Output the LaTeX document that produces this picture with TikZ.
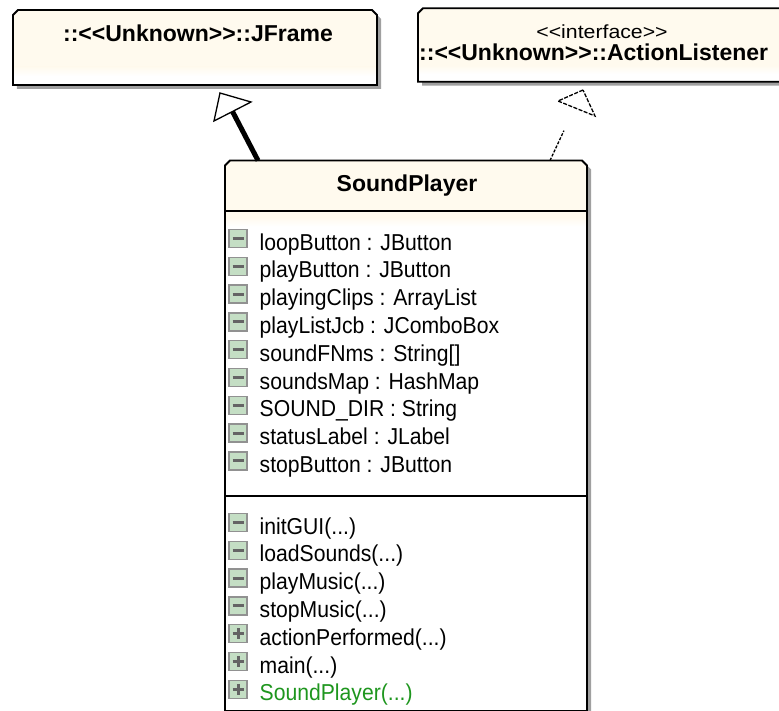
\documentclass[tikz,border=0pt]{standalone}
\usepackage{fontspec}
\setmainfont{Liberation Sans}[Ligatures=TeXOff]
\newfontfamily\memberfont{Liberation Sans}[FakeStretch=0.92, Ligatures=TeXOff]
\newfontfamily\stereofont{Liberation Sans}[FakeStretch=1.12, Ligatures=TeXOff]
\usetikzlibrary{calc}

\definecolor{classfill}{RGB}{255,250,238}
\definecolor{shadowgray}{RGB}{160,160,160}
\definecolor{iconfill}{RGB}{196,222,196}
\definecolor{iconedge}{RGB}{145,145,145}
\definecolor{iconbar}{RGB}{100,100,100}
\definecolor{ctorgreen}{RGB}{30,150,30}

% collapsed parameter list of an operation
\newcommand\argdots{(...)}

\tikzset{
  classarea/.style={rectangle, inner sep=0pt, outer sep=0pt},
  % class box outline with chamfered top corners, shifted by #2
  classshape/.style n args={2}{insert path={
    ($(#1.south west)+(#2)$) -- ($(#1.north west)+(0,5)+(#2)$) --
    ($(#1.north west)+(5,0)+(#2)$) -- ($(#1.north east)+(-5,0)+(#2)$) --
    ($(#1.north east)+(0,5)+(#2)$) -- ($(#1.south east)+(#2)$) -- cycle}},
  classedge/.style={draw=black, line width=1.8bp, line join=miter},
  sepline/.style={draw=black, line width=1.6bp},
  titletext/.style={anchor=base, inner sep=0pt, font=\bfseries\fontsize{23bp}{28bp}\selectfont},
  membertext/.style={anchor=base west, inner sep=0pt, font=\memberfont\fontsize{23bp}{28bp}\selectfont},
  stereotext/.style={anchor=base, inner sep=0pt, font=\stereofont\fontsize{19bp}{24bp}\selectfont},
  iconbase/.style={rectangle, inner sep=0pt, minimum size=18bp, fill=iconfill, draw=iconedge, line width=1.4bp},
  minusicon/.style={iconbase, path picture={
    \draw[iconbar, line width=3bp] ($(path picture bounding box.center)+(-5.5,0)$) -- ($(path picture bounding box.center)+(5.5,0)$);}},
  plusicon/.style={iconbase, path picture={
    \draw[iconbar, line width=3bp] ($(path picture bounding box.center)+(-5.5,0)$) -- ($(path picture bounding box.center)+(5.5,0)$);
    \draw[iconbar, line width=3bp] ($(path picture bounding box.center)+(0,-5.5)$) -- ($(path picture bounding box.center)+(0,5.5)$);}},
  genline/.style={draw=black, line width=5bp},
  realline/.style={draw=black, line width=1.3bp, dash pattern=on 3bp off 1.5bp},
  gentri/.style={draw=black, fill=white, line width=1.3bp, line join=miter},
  realtri/.style={draw=black, fill=white, line width=1.3bp, dash pattern=on 4bp off 1.5bp, line join=miter},
}

% draws shadow, fill and outline of a class box node
\newcommand\drawclassbox[1]{%
  \fill[shadowgray, classshape={#1}{4,4}];
  \fill[white, classshape={#1}{0,0}];
  \begin{scope}
    \clip[classshape={#1}{0,0}];
    \fill[classfill] (#1.north west) rectangle ($(#1.north east)+(0,57)$);
    \shade[top color=classfill, bottom color=white] ($(#1.north west)+(0,57)$) rectangle ($(#1.north east)+(0,66)$);
  \end{scope}
  \draw[classedge, classshape={#1}{0,0}];
}

\begin{document}
\begin{tikzpicture}[x=1bp, y=-1bp]
  \useasboundingbox (0,0) rectangle (779,711);
  \fill[white] (0,0) rectangle (779,711);

  % class boxes
  \node[classarea, minimum width=364bp, minimum height=75bp] (jframe) at (195,47.5) {};
  \node[classarea, minimum width=390bp, minimum height=73.5bp] (listener) at (613,45) {};
  \node[classarea, minimum width=362bp, minimum height=550.5bp] (player) at (406,435.75) {};

  \drawclassbox{jframe}
  \drawclassbox{listener}
  \drawclassbox{player}

  % names
  \node[titletext] (jframename) at (198,41.5) {::<<Unknown>>::JFrame};
  \node[stereotext] (listenerstereo) at (602,39) {<<interface>>};
  \node[titletext, anchor=base west] (listenername) at (419,60.5) {::<<Unknown>>::ActionListener};
  \node[titletext] (playername) at (407,191.5) {SoundPlayer};

  % compartment separators
  \coordinate (sepAw) at ($(player.north west)+(0,50.5)$);
  \coordinate (sepAe) at ($(player.north east)+(0,50.5)$);
  \coordinate (sepBw) at ($(player.north west)+(0,335.5)$);
  \coordinate (sepBe) at ($(player.north east)+(0,335.5)$);
  \draw[sepline] (sepAw) -- (sepAe);
  \draw[sepline] (sepBw) -- (sepBe);

  % attributes
  \foreach \txt [count=\i] in {loopButton : JButton, playButton : JButton,
      playingClips : ArrayList, playListJcb : JComboBox, soundFNms : String[],
      soundsMap : HashMap, SOUND\_DIR : String, statusLabel : JLabel, stopButton : JButton}{
    \node[minusicon] (attricon\i) at (238,{238.5+27.8*(\i-1)}) {};
    \node[membertext] (attr\i) at (259.5,{250+27.8*(\i-1)}) {\txt};
  }

  % operations
  \foreach \txt [count=\i] in {initGUI, loadSounds, playMusic, stopMusic}{
    \node[minusicon] (opicon\i) at (238,{522.5+27.8*(\i-1)}) {};
    \node[membertext] (op\i) at (259.5,{534+27.8*(\i-1)}) {\txt\argdots};
  }
  \node[plusicon] (opicon5) at (238,{522.5+27.8*4}) {};
  \node[membertext] (op5) at (259.5,{534+27.8*4}) {actionPerformed\argdots};
  \node[plusicon] (opicon6) at (238,{522.5+27.8*5}) {};
  \node[membertext] (op6) at (259.5,{534+27.8*5}) {main\argdots};
  \node[plusicon] (opicon7) at (238,{522.5+27.8*6}) {};
  \node[membertext, text=ctorgreen] (op7) at (259.5,{534+27.8*6}) {SoundPlayer\argdots};

  % generalization SoundPlayer -> JFrame
  \coordinate (gentail) at ($(player.north west)+(33,0)$);
  \coordinate (gentip) at (220,93);
  \coordinate (genbaseA) at (251,102);
  \coordinate (genbaseB) at (214,121);
  \coordinate (genbase) at ($(genbaseA)!0.5!(genbaseB)$);
  \draw[genline] (gentail) -- (genbase);
  \draw[gentri] (gentip) -- (genbaseA) -- (genbaseB) -- cycle;

  % realization SoundPlayer -> ActionListener
  \coordinate (realtail) at ($(player.north west)+(325,0)$);
  \coordinate (realtip) at (583,90);
  \coordinate (realbaseA) at (558,101);
  \coordinate (realbaseB) at (595,116);
  \coordinate (realbase) at (574.5,108);
  \draw[realline, shorten >=25bp] (realtail) -- (realbase);
  \draw[realtri] (realtip) -- (realbaseA) -- (realbaseB) -- cycle;
\end{tikzpicture}
\end{document}
